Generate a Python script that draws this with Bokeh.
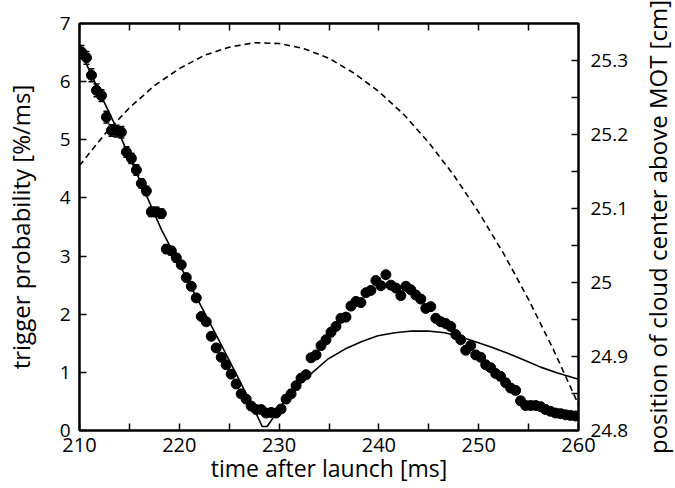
import math
from bokeh.plotting import figure
from bokeh.layouts import row
from bokeh.models import (ColumnDataSource, LinearAxis, Range1d, FixedTicker,
                          Whisker, TeeHead)
from bokeh.embed import file_html
from bokeh.resources import INLINE

# ---- data ----
meas_t = [210.2 + 0.5 * k for k in range(100)]
meas_v = [6.51, 6.41, 6.11, 5.85, 5.76, 5.39, 5.16, 5.15, 5.13, 4.79,
          4.68, 4.48, 4.25, 4.12, 3.76, 3.76, 3.73, 3.12, 3.09, 2.97,
          2.85, 2.63, 2.48, 2.28, 1.96, 1.87, 1.62, 1.42, 1.26, 1.13,
          0.97, 0.80, 0.63, 0.54, 0.42, 0.36, 0.36, 0.30, 0.31, 0.30,
          0.37, 0.54, 0.63, 0.77, 0.90, 0.96, 1.25, 1.30, 1.46, 1.56,
          1.69, 1.79, 1.93, 1.95, 2.14, 2.22, 2.20, 2.37, 2.41, 2.58,
          2.49, 2.68, 2.50, 2.45, 2.32, 2.48, 2.42, 2.33, 2.26, 2.10,
          2.13, 1.93, 1.87, 1.84, 1.79, 1.65, 1.56, 1.38, 1.46, 1.30,
          1.26, 1.13, 1.08, 0.98, 0.93, 0.82, 0.73, 0.69, 0.51, 0.43,
          0.43, 0.43, 0.41, 0.36, 0.33, 0.30, 0.29, 0.27, 0.26, 0.25]
meas_err = [0.11, 0.11, 0.11, 0.11, 0.10, 0.10, 0.10, 0.10, 0.10, 0.09,
            0.09, 0.09, 0.08, 0.08, 0.08, 0.08, 0.08, 0.07, 0.07, 0.07] + [0.06] * 80

model_t = [210.0, 212.0, 214.2, 216.0, 218.2, 220.0, 222.0, 224.0, 226.0, 227.9,
           228.3, 228.8, 229.4, 230.5, 231.6, 233.3, 234.9, 236.6, 238.3, 239.9,
           241.6, 243.3, 244.9, 246.6, 248.0, 249.6, 251.3, 252.9, 254.6, 256.2,
           257.9, 260.0]
model_v = [6.56, 5.82, 5.02, 4.32, 3.46, 2.86, 2.20, 1.54, 0.87, 0.22,
           0.07, 0.07, 0.22, 0.50, 0.74, 0.99, 1.23, 1.40, 1.53, 1.63,
           1.68, 1.71, 1.71, 1.68, 1.62, 1.53, 1.43, 1.33, 1.21, 1.09,
           0.99, 0.88]

pos_t = [210.0, 212.5, 215.0, 217.5, 220.0, 222.5, 225.0, 227.5, 230.0, 232.5,
         235.0, 237.5, 240.0, 242.5, 245.0, 247.5, 250.0, 252.5, 255.0, 257.5, 260.0]
pos_cm = [25.158, 25.200, 25.236, 25.266, 25.289, 25.307, 25.318, 25.324, 25.323, 25.316,
          25.303, 25.283, 25.258, 25.227, 25.189, 25.145, 25.095, 25.039, 24.977, 24.909, 24.835]

x_major = [210, 220, 230, 240, 250, 260]
x_minor = [215, 225, 235, 245, 255]
x_all = [210, 215, 220, 225, 230, 235, 240, 245, 250, 255, 260]
yl_major = [0, 1, 2, 3, 4, 5, 6, 7]
yr_major = [24.8, 24.9, 25.0, 25.1, 25.2, 25.3]
yr_minor = [24.85, 24.95, 25.05, 25.15, 25.25]

x_title = "time after launch [ms]"
yl_title = "trigger probability [%/ms]"
yr_title = "position of cloud center above MOT [cm]"

FONT = "Open Sans"
MAIN_W, SIDE_W, H = 635, 40, 488

p = figure(width=MAIN_W, height=H, output_backend="svg", toolbar_location=None,
           x_range=Range1d(210, 260), y_range=Range1d(0, 7),
           min_border_left=78, min_border_right=57, min_border_top=23,
           min_border_bottom=58)
p.extra_y_ranges = {"pos": Range1d(24.8, 25.35)}
p.grid.visible = False
p.outline_line_color = "black"
p.outline_line_width = 2
p.background_fill_color = "white"
p.border_fill_color = "white"

def style_axis(ax, label_size="19px", title_size="23px"):
    ax.axis_line_width = 2
    ax.axis_line_color = "black"
    ax.major_tick_in = 7
    ax.major_tick_out = 0
    ax.minor_tick_in = 7
    ax.minor_tick_out = 0
    ax.major_tick_line_width = 1.5
    ax.minor_tick_line_width = 1.5
    ax.major_label_text_font = FONT
    ax.major_label_text_font_size = label_size
    ax.major_label_text_color = "black"
    ax.axis_label_text_font = FONT
    ax.axis_label_text_font_size = title_size
    ax.axis_label_text_font_style = "normal"
    ax.axis_label_text_color = "black"

xa = p.xaxis[0]
xa.ticker = FixedTicker(ticks=x_major, minor_ticks=x_minor)
xa.axis_label = x_title
style_axis(xa, "20px", "23px")
xa.major_label_standoff = 7
try:
    xa.axis_label_standoff = -3
except Exception:
    xa.axis_label_standoff = 0

ya = p.yaxis[0]
ya.ticker = FixedTicker(ticks=yl_major)
ya.axis_label = yl_title
style_axis(ya, "19px", "24px")
ya.major_label_standoff = 9
ya.axis_label_standoff = 20

ra = LinearAxis(y_range_name="pos",
                ticker=FixedTicker(ticks=yr_major, minor_ticks=yr_minor))
style_axis(ra, "19px", "23px")
ra.major_label_standoff = 12
ra.major_label_overrides = {24.8: "24.8", 24.9: "24.9", 25.0: "25", 25.1: "25.1",
                            25.2: "25.2", 25.3: "25.3"}
p.add_layout(ra, "right")

ta = LinearAxis(ticker=FixedTicker(ticks=[], minor_ticks=x_all))
style_axis(ta)
p.add_layout(ta, "above")

# dashed trajectory (right axis)
p.line(pos_t, pos_cm, y_range_name="pos", line_color="black", line_width=1.6,
       line_dash="6 4")

# model curve
p.line(model_t, model_v, line_color="black", line_width=1.6)

# measurements with error bars
src = ColumnDataSource(dict(
    t=meas_t, v=meas_v,
    lo=[v - e for v, e in zip(meas_v, meas_err)],
    hi=[v + e for v, e in zip(meas_v, meas_err)]))
wh = Whisker(base="t", lower="lo", upper="hi", source=src, line_color="black",
             line_width=1.5,
             lower_head=TeeHead(size=6, line_color="black", line_width=1.5),
             upper_head=TeeHead(size=6, line_color="black", line_width=1.5))
p.add_layout(wh)
p.scatter("t", "v", source=src, size=10, marker="circle", fill_color="black",
          line_color="black")

# side strip: its (invisible) left axis carries the right-hand title,
# which then reads bottom to top like the reference
q = figure(width=SIDE_W, height=H, output_backend="svg", toolbar_location=None,
           x_range=Range1d(0, 1), y_range=Range1d(24.8, 25.35),
           min_border_left=38, min_border_right=0, min_border_top=23,
           min_border_bottom=58)
q.xaxis.visible = False
q.grid.visible = False
q.outline_line_color = None
q.background_fill_color = "white"
q.border_fill_color = "white"
qa = q.yaxis[0]
qa.ticker = FixedTicker(ticks=[])
qa.axis_line_color = None
qa.major_tick_out = 0
qa.major_tick_in = 0
qa.minor_tick_out = 0
qa.minor_tick_in = 0
qa.major_label_standoff = 0
qa.axis_label = yr_title
qa.axis_label_standoff = 0
qa.axis_label_text_font = FONT
qa.axis_label_text_font_size = "24px"
qa.axis_label_text_font_style = "normal"
qa.axis_label_text_color = "black"

layout = row(p, q, spacing=0)
open("out.html", "w").write(file_html(layout, INLINE))
